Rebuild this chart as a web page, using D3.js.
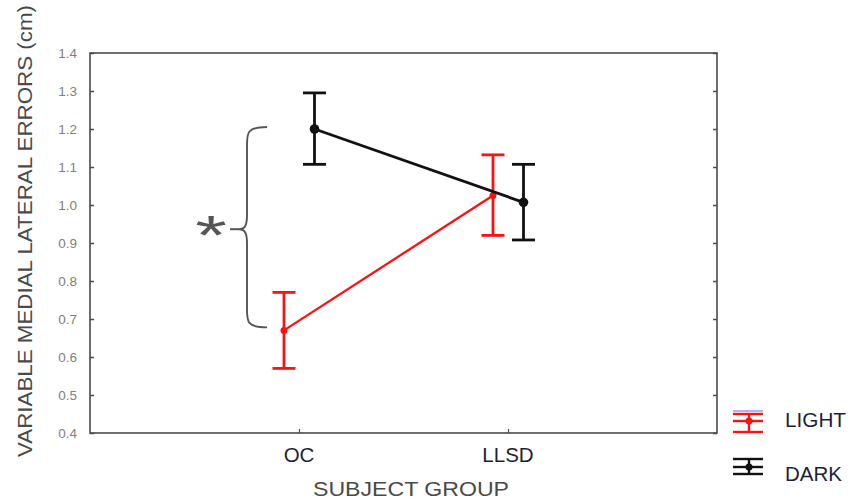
<!DOCTYPE html>
<html>
<head>
<meta charset="utf-8">
<script src="https://cdn.jsdelivr.net/npm/d3@7"></script>
<style>
  html, body { margin: 0; padding: 0; background: #fff; }
  svg { display: block; font-family: "Liberation Sans", Arial, sans-serif; }
</style>
</head>
<body>
<svg id="chart" width="850" height="501"></svg>
<script>
// ---- data ----
const categories = ["OC", "LLSD"];
const lightMean = [0.670, 1.025];
const lightLow  = [0.570, 0.920];
const lightHigh = [0.770, 1.132];
const darkMean  = [1.200, 1.007];
const darkLow   = [1.107, 0.908];
const darkHigh  = [1.295, 1.107];
const yTicks = [0.4, 0.5, 0.6, 0.7, 0.8, 0.9, 1.0, 1.1, 1.2, 1.3, 1.4];
const yLabel = "VARIABLE MEDIAL LATERAL ERRORS (cm)";
const xLabel = "SUBJECT GROUP";
const seriesNames = ["LIGHT", "DARK"];

// ---- layout ----
const pLeft = 90, pRight = 717, pTop = 53, pBottom = 433;
const svg = d3.select("#chart");

const x = d3.scalePoint().domain(categories).range([pLeft, pRight]).padding(1);
const y = d3.scaleLinear().domain([0.4, 1.4]).range([pBottom, pTop]);

const series = [
  { name: seriesNames[0], mean: lightMean, lo: lightLow, hi: lightHigh, color: "#ff1010", offset: -15, lw: 2.3, r: 3.5 },
  { name: seriesNames[1], mean: darkMean,  lo: darkLow,  hi: darkHigh,  color: "#111111", offset: 15.5, lw: 2.8, r: 4.8 }
];

// frame
svg.append("rect")
  .attr("x", pLeft).attr("y", pTop)
  .attr("width", pRight - pLeft).attr("height", pBottom - pTop)
  .attr("fill", "none").attr("stroke", "#4a4a4a").attr("stroke-width", 1.6);

// y axis ticks (left & right, inward)
const yAxisL = d3.axisRight(y).tickValues(yTicks).tickSize(4).tickFormat("");
const gL = svg.append("g").attr("transform", `translate(${pLeft},0)`).call(yAxisL);
gL.select(".domain").remove();
gL.selectAll("line").attr("stroke", "#4a4a4a").attr("stroke-width", 1.5);

const yAxisR = d3.axisLeft(y).tickValues(yTicks).tickSize(4).tickFormat("");
const gR = svg.append("g").attr("transform", `translate(${pRight},0)`).call(yAxisR);
gR.select(".domain").remove();
gR.selectAll("line").attr("stroke", "#4a4a4a").attr("stroke-width", 1.5);

// y tick labels
const yLab = d3.axisLeft(y).tickValues(yTicks).tickSize(0).tickPadding(0).tickFormat(d3.format(".1f"));
const gYL = svg.append("g").attr("transform", `translate(${pLeft - 13},0)`).call(yLab);
gYL.select(".domain").remove();
gYL.selectAll("text").attr("font-size", 13.5).attr("fill", "#808080")
  .attr("font-family", "Liberation Sans, Arial, sans-serif");

// x axis (ticks inward + labels)
const xAxis = d3.axisTop(x).tickSize(4).tickFormat("");
const gX = svg.append("g").attr("transform", `translate(0,${pBottom})`).call(xAxis);
gX.select(".domain").remove();
gX.selectAll("line").attr("stroke", "#4a4a4a").attr("stroke-width", 1.2);

svg.append("g").selectAll("text").data(categories).join("text")
  .attr("x", d => x(d)).attr("y", 462)
  .attr("text-anchor", "middle").attr("font-size", 20.5).attr("fill", "#1e1e3c")
  .text(d => d);

// axis titles
svg.append("text")
  .attr("transform", "translate(32,231) rotate(-90)")
  .attr("text-anchor", "middle").attr("font-size", 20).attr("fill", "#4a4a4a")
  .attr("textLength", 452).attr("lengthAdjust", "spacingAndGlyphs")
  .text(yLabel);

svg.append("text")
  .attr("x", 411).attr("y", 496)
  .attr("text-anchor", "middle").attr("font-size", 21).attr("fill", "#4a4a4a")
  .attr("textLength", 196).attr("lengthAdjust", "spacingAndGlyphs")
  .text(xLabel);

// series
const line = d3.line();
series.forEach(s => {
  const g = svg.append("g");
  const pts = categories.map((c, i) => [x(c) + s.offset, y(s.mean[i])]);
  g.append("path").attr("d", line(pts)).attr("fill", "none")
    .attr("stroke", s.color).attr("stroke-width", s.lw);
  categories.forEach((c, i) => {
    const cx = x(c) + s.offset;
    g.append("line").attr("x1", cx).attr("x2", cx)
      .attr("y1", y(s.lo[i])).attr("y2", y(s.hi[i]))
      .attr("stroke", s.color).attr("stroke-width", 2.8);
    [s.lo[i], s.hi[i]].forEach(v => {
      g.append("line").attr("x1", cx - 11.5).attr("x2", cx + 11.5)
        .attr("y1", y(v)).attr("y2", y(v))
        .attr("stroke", s.color).attr("stroke-width", 2.8);
    });
    g.append("circle").attr("cx", cx).attr("cy", y(s.mean[i])).attr("r", s.r).attr("fill", s.color);
  });
});

// significance brace + asterisk
const yb1 = y(darkMean[0]) - 2, yb2 = y(lightMean[0]) - 3;
const ym = (yb1 + yb2) / 2 + 2;
const bx = 247, ex = 267, mx = 239;
const brace = `M${ex},${yb1} C${bx},${yb1} ${bx},${yb1 + 6} ${bx},${yb1 + 18}
  L${bx},${ym - 14} C${bx},${ym - 4} ${bx - 2},${ym} ${mx},${ym}
  C${bx - 2},${ym} ${bx},${ym + 4} ${bx},${ym + 14}
  L${bx},${yb2 - 18} C${bx},${yb2 - 6} ${bx},${yb2} ${ex},${yb2}`;
svg.append("path").attr("d", brace).attr("fill", "none")
  .attr("stroke", "#555").attr("stroke-width", 1.9);
svg.append("line").attr("x1", 230).attr("x2", mx).attr("y1", ym).attr("y2", ym)
  .attr("stroke", "#555").attr("stroke-width", 2);
svg.append("text").attr("transform", "translate(211,254) scale(1.45,1)")
  .attr("text-anchor", "middle").attr("font-size", 56).attr("fill", "#555")
  .text("*");

// legend
const legend = [
  { name: seriesNames[0], color: "#ff1010", ty: 427, t: 414, m: 421, b: 432, extra: true, len: 61 },
  { name: seriesNames[1], color: "#111111", ty: 481, t: 459, m: 467, b: 474, extra: false, len: 57 }
];
legend.forEach(L => {
  const g = svg.append("g");
  if (L.extra) {
    g.append("line").attr("x1", 733).attr("x2", 763).attr("y1", 411).attr("y2", 411)
      .attr("stroke", "#9a9af0").attr("stroke-width", 1.5);
  }
  [L.t, L.m, L.b].forEach(yy => {
    g.append("line").attr("x1", 733).attr("x2", 763).attr("y1", yy).attr("y2", yy)
      .attr("stroke", L.color).attr("stroke-width", 2.4);
  });
  g.append("line").attr("x1", 749).attr("x2", 749).attr("y1", L.t).attr("y2", L.b)
    .attr("stroke", L.color).attr("stroke-width", 2.4);
  g.append("circle").attr("cx", 749).attr("cy", L.m).attr("r", 3.5).attr("fill", L.color);
  g.append("text").attr("x", 785).attr("y", L.ty).attr("font-size", 20.5)
    .attr("textLength", L.len).attr("lengthAdjust", "spacingAndGlyphs")
    .attr("fill", "#1e1e3c").text(L.name);
});
</script>
</body>
</html>
